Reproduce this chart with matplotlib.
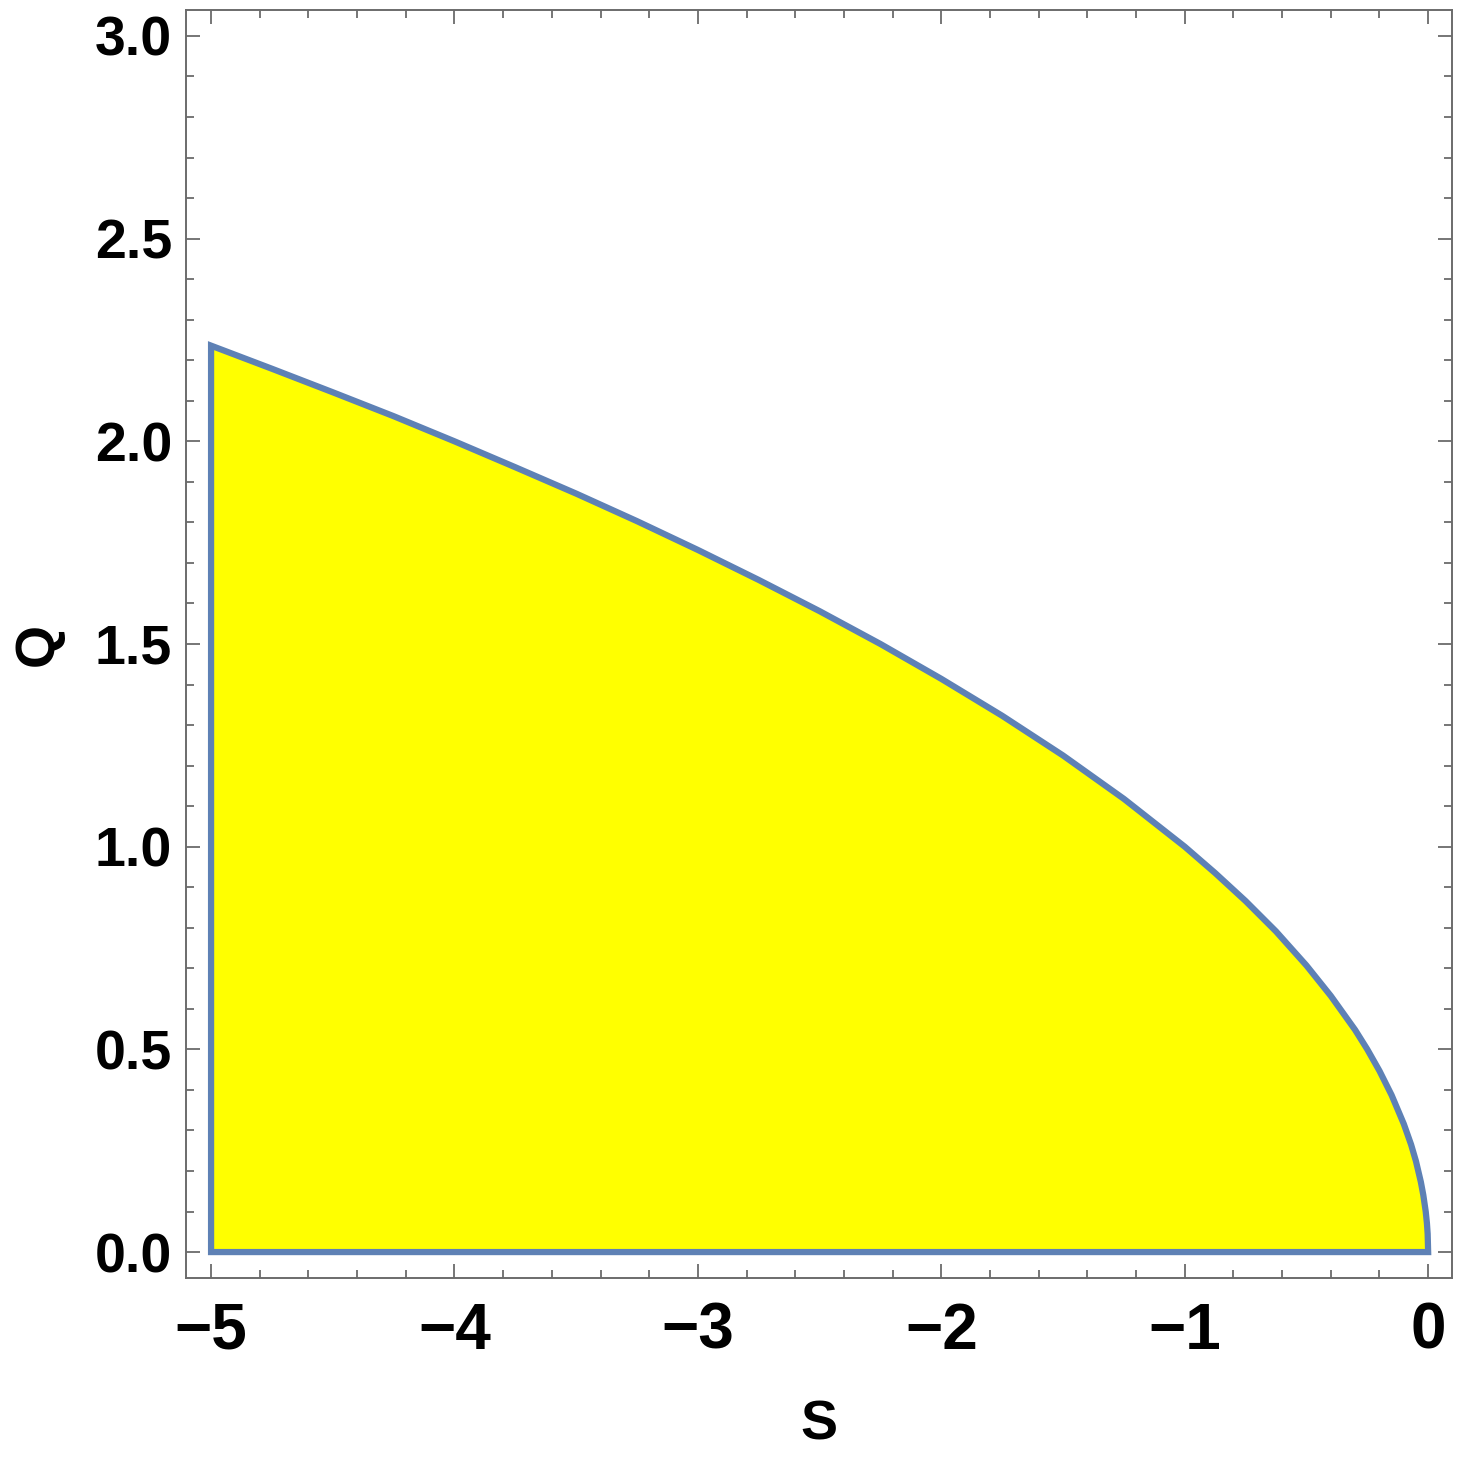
import matplotlib
matplotlib.use("Agg")
import matplotlib.pyplot as plt
from matplotlib.ticker import MultipleLocator, FixedLocator

# Boundary of the region
s_boundary = [-5.0, -4.75, -4.5, -4.25, -4.0, -3.75, -3.5, -3.25, -3.0, -2.75, -2.5,
              -2.25, -2.0, -1.75, -1.5, -1.25, -1.0, -0.875, -0.75, -0.625, -0.5,
              -0.4, -0.3, -0.25, -0.2, -0.15, -0.1, -0.07, -0.05, -0.03, -0.02,
              -0.01, -0.005, -0.002, 0.0]
q_boundary = [2.236, 2.179, 2.121, 2.062, 2.0, 1.936, 1.871, 1.803, 1.732, 1.658, 1.581,
              1.5, 1.414, 1.323, 1.225, 1.118, 1.0, 0.935, 0.866, 0.791, 0.707,
              0.632, 0.548, 0.5, 0.447, 0.387, 0.316, 0.265, 0.224, 0.173, 0.141,
              0.1, 0.071, 0.045, 0.0]
s_left = -5.0
q_floor = 0.0

x_ticks = [-5, -4, -3, -2, -1, 0]
x_ticklabels = ["\u22125", "\u22124", "\u22123", "\u22122", "\u22121", "0"]
y_ticks = [0.0, 0.5, 1.0, 1.5, 2.0, 2.5, 3.0]
y_ticklabels = ["0.0", "0.5", "1.0", "1.5", "2.0", "2.5", "3.0"]

plt.rcParams['font.family'] = ['Liberation Sans', 'DejaVu Sans']

fig = plt.figure(figsize=(14.59, 14.62), dpi=100)
ax = fig.add_axes([186/1459, 1 - 1278/1462, (1452-186)/1459, (1278-10)/1462])

poly_x = [s_left] + s_boundary + [s_left]
poly_y = [q_floor] + q_boundary + [q_floor]
ax.fill(poly_x, poly_y, facecolor="#FFFF00", edgecolor="#5E81B5", linewidth=4.5,
        joinstyle="miter", zorder=2)

ax.set_xlim(-5.103, 0.098)
ax.set_ylim(-0.064, 3.064)

ax.xaxis.set_major_locator(FixedLocator(x_ticks))
ax.set_xticklabels(x_ticklabels)
ax.yaxis.set_major_locator(FixedLocator(y_ticks))
ax.set_yticklabels(y_ticklabels)
ax.xaxis.set_minor_locator(MultipleLocator(0.2))
ax.yaxis.set_minor_locator(MultipleLocator(0.1))

gray = "#6b6b6b"
for sp in ax.spines.values():
    sp.set_color(gray)
    sp.set_linewidth(1.4)

ax.tick_params(which="both", direction="in", top=True, right=True, color=gray, width=1.3)
ax.tick_params(which="major", length=10)
ax.tick_params(which="minor", length=6)
ax.tick_params(axis="x", which="major", pad=17, labelsize=46)
ax.tick_params(axis="y", which="major", pad=10, labelsize=40)
for lab in ax.get_xticklabels() + ax.get_yticklabels():
    lab.set_fontweight("bold")

ax.set_xlabel("S", fontsize=40, fontweight="bold", labelpad=27)
ax.set_ylabel("Q", fontsize=40, fontweight="bold", labelpad=22)

fig.savefig("out.png", dpi=100)
